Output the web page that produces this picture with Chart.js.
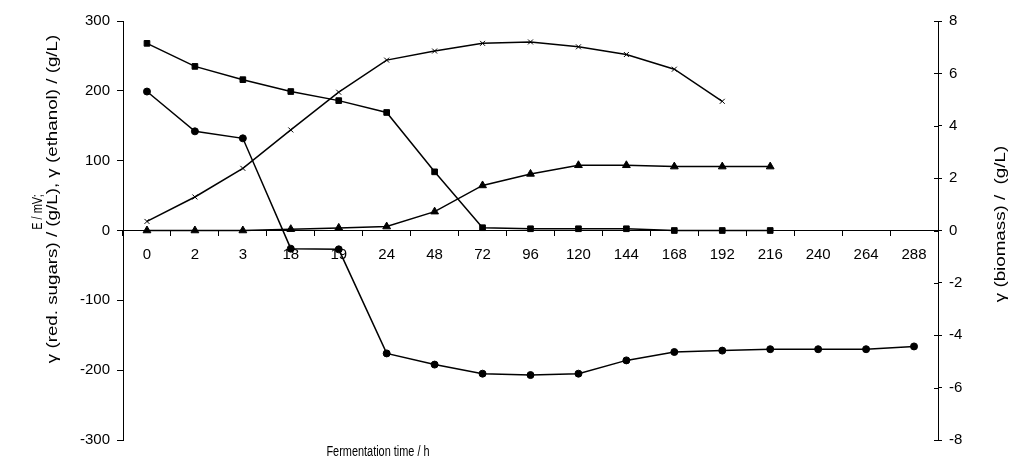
<!DOCTYPE html>
<html>
<head>
<meta charset="utf-8">
<script src="https://cdn.jsdelivr.net/npm/chart.js@4/dist/chart.umd.min.js"></script>
<style>
  html, body { margin: 0; padding: 0; background: #fff; }
  #wrap { width: 1010px; height: 461px; position: relative; }
</style>
</head>
<body>
<div id="wrap"><canvas id="c" width="1010" height="461"></canvas></div>
<script>
const timeLabels = ['0','2','3','18','19','24','48','72','96','120','144','168','192','216','240','264','288'];
const potentialE = [199, 142, 132, -26, -27, -176, -192, -205, -207, -205, -186, -174, -172, -170, -170, -170, -166];
const redSugars = [268, 235, 216, 199, 186, 169, 84, 4, 2.5, 2.5, 2.5, 0, 0, 0];
const ethanol = [13, 48, 89, 144, 198, 244, 257, 268, 270, 263, 252, 231, 185];
const biomass = [0, 0, 0, 0.05, 0.1, 0.15, 0.72, 1.72, 2.16, 2.49, 2.49, 2.44, 2.44, 2.44];
const leftTicks = { min: -300, max: 300, step: 100 };
const rightTicks = { min: -8, max: 8, step: 2 };
const xTitle = 'Fermentation time / h';
const yTitleLines = ['E / mV;', 'γ (red. sugars) / (g/L), γ (ethanol) / (g/L)'];
const y1Title = 'γ (biomass) /  (g/L)';

const FONT = '"Liberation Sans", Arial, sans-serif';

function vText(ctx, text, x, y, stretch) {
  ctx.save();
  ctx.translate(x, y);
  ctx.rotate(-Math.PI / 2);
  ctx.scale(stretch, 1);
  ctx.fillText(text, 0, 0);
  ctx.restore();
}

const titlesPlugin = {
  id: 'titles',
  afterDraw(chart) {
    const ctx = chart.ctx;
    ctx.save();
    ctx.fillStyle = '#000';
    ctx.textAlign = 'center';
    ctx.textBaseline = 'middle';
    // x title
    ctx.font = '14px ' + FONT;
    ctx.save();
    ctx.translate(378, 452);
    ctx.scale(0.78, 1);
    ctx.fillText(xTitle, 0, 0);
    ctx.restore();
    // left title
    ctx.font = '14px ' + FONT;
    vText(ctx, yTitleLines[0], 38, 212, 0.78);
    vText(ctx, yTitleLines[1], 53, 199, 1.34);
    // right title
    vText(ctx, y1Title, 1001, 224, 1.34);
    // inner halves of right-axis ticks
    const s = chart.scales.y1;
    ctx.strokeStyle = '#000';
    ctx.lineWidth = 1;
    s.ticks.forEach(t => {
      const y = Math.round(s.getPixelForValue(t.value)) + 0.5;
      ctx.beginPath();
      ctx.moveTo(s.left - 4, y);
      ctx.lineTo(s.left, y);
      ctx.stroke();
    });
    ctx.restore();
  }
};

const common = {
  borderColor: '#000',
  backgroundColor: '#000',
  borderWidth: 1.5,
  pointBorderColor: '#000',
  pointBackgroundColor: '#000',
  pointBorderWidth: 1,
  tension: 0,
  fill: false
};

new Chart(document.getElementById('c'), {
  type: 'line',
  data: {
    labels: timeLabels,
    datasets: [
      Object.assign({ label: 'E', data: potentialE, pointStyle: 'circle', pointRadius: 3.5, yAxisID: 'y' }, common),
      Object.assign({ label: 'red. sugars', data: redSugars, pointStyle: 'rect', pointRadius: 4, yAxisID: 'y' }, common),
      Object.assign({ label: 'ethanol', data: ethanol, pointStyle: 'crossRot', pointRadius: 3.5, pointBorderWidth: 1.8, yAxisID: 'y' }, common),
      Object.assign({ label: 'biomass', data: biomass, pointStyle: 'triangle', pointRadius: 4.5, yAxisID: 'y1' }, common)
    ]
  },
  plugins: [titlesPlugin],
  options: {
    responsive: false,
    animation: false,
    layout: { padding: { top: 21, bottom: 21, left: 0, right: 0 } },
    plugins: { legend: { display: false }, tooltip: { enabled: false } },
    scales: {
      x: {
        type: 'category',
        position: { y: 0 },
        offset: true,
        grid: { display: true, drawOnChartArea: false, drawTicks: true, tickLength: 5, offset: true, color: '#000' },
        border: { display: true, color: '#000', width: 1 },
        ticks: { color: '#000', font: { family: FONT, size: 15 }, padding: 10, maxRotation: 0, autoSkip: false }
      },
      y: {
        position: 'left',
        min: leftTicks.min, max: leftTicks.max,
        afterFit(scale) { scale.width = 123; },
        grid: { drawOnChartArea: false, drawTicks: true, tickLength: 6, color: '#000' },
        border: { display: true, color: '#000', width: 1 },
        ticks: { stepSize: leftTicks.step, color: '#000', font: { family: FONT, size: 15 }, padding: 7 }
      },
      y1: {
        position: 'right',
        min: rightTicks.min, max: rightTicks.max,
        afterFit(scale) { scale.width = 72; },
        grid: { drawOnChartArea: false, drawTicks: true, tickLength: 4, color: '#000' },
        border: { display: true, color: '#000', width: 1 },
        ticks: { stepSize: rightTicks.step, color: '#000', font: { family: FONT, size: 15 }, padding: 7 }
      }
    }
  }
});
</script>
</body>
</html>
